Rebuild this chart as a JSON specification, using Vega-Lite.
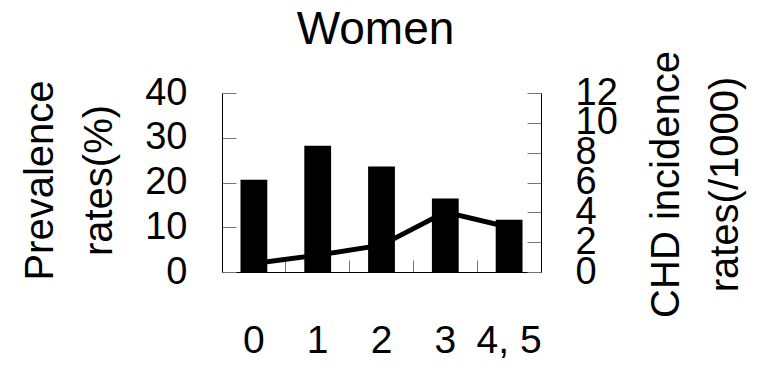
{
  "$schema": "https://vega.github.io/schema/vega-lite/v6.json",
  "autosize": "none",
  "width": 319,
  "height": 179,
  "padding": {"left": 222, "top": 93, "right": 220, "bottom": 96},
  "background": "white",
  "config": {
    "font": "Liberation Sans",
    "view": {"stroke": null},
    "axis": {"grid": false, "domainColor": "#000", "domainWidth": 1, "tickColor": "#777", "tickWidth": 1, "labelColor": "#000", "titleColor": "#000", "labelFont": "Liberation Sans", "titleFont": "Liberation Sans", "titleFontWeight": "normal", "labelOverlap": false}
  },
  "title": {"text": "Women", "fontSize": 46, "fontWeight": "normal", "font": "Liberation Sans", "color": "#000", "baseline": "bottom", "offset": -49, "dx": -6},
  "data": {"values": [
    {"group": "0", "prevalence": 20.6, "chd": 0.57},
    {"group": "1", "prevalence": 28.2, "chd": 1.13},
    {"group": "2", "prevalence": 23.6, "chd": 1.8},
    {"group": "3", "prevalence": 16.4, "chd": 4.02},
    {"group": "4, 5", "prevalence": 11.7, "chd": 3.0}
  ]},
  "encoding": {
    "x": {"field": "group", "type": "nominal", "sort": null,
      "scale": {"paddingInner": 0, "paddingOuter": 0},
      "axis": {"title": null, "labelAngle": 0, "labelFontSize": 39, "labelPadding": 61, "bandPosition": 0, "tickSize": -12, "domainWidth": 1}}
  },
  "layer": [
    {
      "mark": {"type": "bar", "color": "#000", "width": {"band": 0.42}},
      "encoding": {
        "y": {"field": "prevalence", "type": "quantitative",
          "scale": {"domain": [0, 40], "nice": false},
          "axis": {"orient": "left", "values": [0, 10, 20, 30, 40], "tickSize": -14, "labelPadding": 49, "labelFontSize": 38, "labelBaseline": "middle",
            "title": ["Prevalence", "rates(%)"], "titleFontSize": 40, "titleAngle": -90, "titleAlign": "center", "titleBaseline": "alphabetic", "titleLineHeight": 59, "titleX": -170, "titleY": 87}}
      }
    },
    {
      "mark": {"type": "line", "color": "#000", "strokeWidth": 5},
      "encoding": {
        "y": {"field": "chd", "type": "quantitative",
          "scale": {"domain": [0, 12], "nice": false},
          "axis": {"orient": "right", "values": [0, 2, 4, 6, 8, 10, 12], "tickSize": -14, "labelPadding": 48, "labelFontSize": 38, "labelBaseline": "middle",
            "title": ["CHD incidence", "rates(/1000)"], "titleFontSize": 40, "titleAngle": -90, "titleAlign": "center", "titleBaseline": "alphabetic", "titleLineHeight": 59, "titleX": 137, "titleY": 91}}
      }
    }
  ],
  "resolve": {"scale": {"y": "independent"}}
}
